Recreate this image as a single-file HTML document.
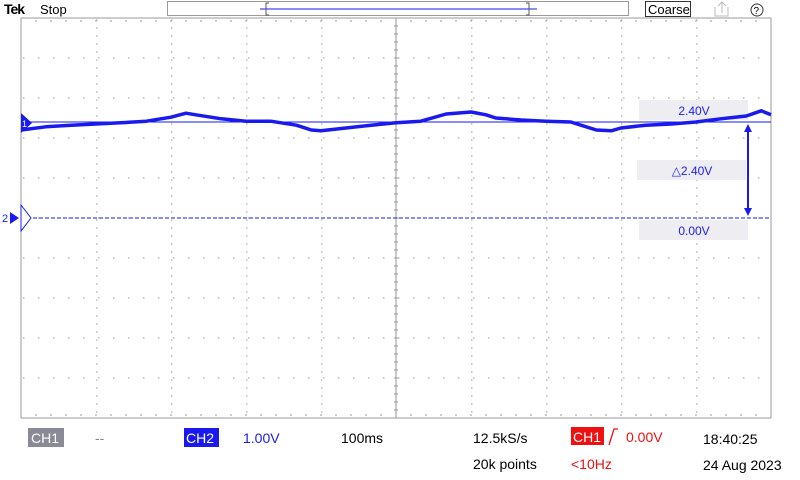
<!DOCTYPE html>
<html><head><meta charset="utf-8"><style>
body{margin:0;width:800px;height:480px;background:#fff;overflow:hidden;font-family:"Liberation Sans",sans-serif;}
svg{position:absolute;left:0;top:0}
</style></head><body>
<svg width="800" height="480" id="scope">
 <text x="4" y="14" font-size="14" font-weight="bold" font-family="Liberation Sans" letter-spacing="-1">Tek</text>
 <text x="40" y="14" font-size="13">Stop</text>
 <rect x="167.5" y="1.5" width="461" height="14" fill="#fff" stroke="#999"/>
 <line x1="260" y1="9" x2="537" y2="9" stroke="#1a1aee"/>
 <path d="M269,3 h-3 v12 h3 M526,3 h3 v12 h-3" fill="none" stroke="#555"/>
 <rect x="645.5" y="1.5" width="45" height="15" fill="#fff" stroke="#333"/>
 <text x="648" y="14" font-size="13">Coarse</text>
 <path d="M715,7 v9 h13 v-9 M722,13 v-11 M718,6 l4,-4 l4,4" fill="none" stroke="#bbb"/>
 <circle cx="757" cy="10" r="6" fill="none" stroke="#333"/>
 <text x="753.5" y="14" font-size="10">?</text>
 <g id="grid"></g>
 <rect x="21" y="18" width="750" height="400" fill="none" stroke="#999"/>
 <line x1="396" y1="18" x2="396" y2="418" stroke="#999"/>
 <rect x="639" y="100" width="109" height="20" fill="#ededf2"/>
 <rect x="637" y="160" width="109" height="20" fill="#ededf2"/>
 <rect x="639" y="220" width="109" height="20" fill="#ededf2"/>
 <g id="marks"></g>
 <text x="694" y="115" font-size="12" fill="#2222ee" text-anchor="middle">2.40V</text>
 <text x="692" y="175" font-size="12" fill="#2222ee" text-anchor="middle">△2.40V</text>
 <text x="694" y="235" font-size="12" fill="#2222ee" text-anchor="middle">0.00V</text>
 <line x1="748" y1="128" x2="748" y2="212" stroke="#1a1aee" stroke-width="2"/>
 <path d="M744,132 L748,124 L752,132Z M744,208 L748,216 L752,208Z" fill="#1a1aee"/>
 <path d="M21,113 L32,123 L21,133Z" fill="#1a1aee"/>
 <text x="22" y="127" font-size="9" fill="#fff">1</text>
 <text x="2" y="222" font-size="11" fill="#1a1aee">2</text>
 <path d="M10,212 L19,218 L10,224Z" fill="#1a1aee"/>
 <path d="M21,205 L31,218 L21,231Z" fill="#fff" stroke="#1a1aee"/>
 <rect x="28" y="428" width="36" height="19" fill="#8a8a96"/>
 <text x="31" y="443" font-size="14" fill="#fff">CH1</text>
 <text x="95" y="443" font-size="14" fill="#888">--</text>
 <rect x="184" y="428" width="35" height="19" fill="#1a1aee"/>
 <text x="186" y="443" font-size="14" fill="#fff">CH2</text>
 <text x="243" y="443" font-size="14" fill="#1a1aee">1.00V</text>
 <text x="341" y="443" font-size="14">100ms</text>
 <text x="473" y="443" font-size="14">12.5kS/s</text>
 <rect x="571" y="427" width="33" height="18" fill="#ee1111"/>
 <text x="573" y="442" font-size="14" fill="#fff">CH1</text>
 <path d="M609,445 L614,429 L618,429" fill="none" stroke="#ee1111" stroke-width="1.3"/>
 <text x="626" y="442" font-size="14" fill="#ee1111">0.00V</text>
 <text x="703" y="444" font-size="14">18:40:25</text>
 <text x="473" y="469" font-size="14">20k points</text>
 <text x="571" y="469" font-size="14" fill="#ee1111">&lt;10Hz</text>
 <text x="703" y="470" font-size="14">24 Aug 2023</text>
</svg>
<script>
const timeMs=[0,33,67,100,133,167,200,220,233,267,300,333,367,387,400,433,467,500,533,567,600,620,633,667,700,733,767,787,800,833,867,900,933,967,987,1000];
const ch1Volts=[2.2,2.28,2.32,2.35,2.38,2.42,2.52,2.62,2.58,2.48,2.42,2.42,2.32,2.2,2.18,2.25,2.32,2.38,2.42,2.6,2.65,2.58,2.5,2.45,2.42,2.4,2.2,2.18,2.25,2.32,2.35,2.4,2.48,2.55,2.68,2.58];
const ch2Volts=[0,0];
const ch2Time=[0,1000];
const cursorA=2.40, cursorB=0.00;
const NS='http://www.w3.org/2000/svg';
const X0=21,W=750,Y0=218,PX_PER_V=40;
function xs(t){return X0+t/1000*W;}
function ys(v){return Y0-v*PX_PER_V;}
const grid=document.getElementById('grid');
let d='';
for(let i=1;i<10;i++){const gx=21+75*i;if(i===5)continue;for(let y=20;y<418;y+=8)d+=`M${gx},${y}h1.5`;}
for(let j=1;j<10;j++){const gy=18+40*j;for(let x=23;x<771;x+=15)d+=`M${x},${gy}h1.5`;}
for(let x=21;x<771;x+=15){d+=`M${x},20v2M${x},414v2`;}
for(let y=18;y<418;y+=8){d+=`M394,${y}h4`;}
const gp=document.createElementNS(NS,'path');gp.setAttribute('d',d);gp.setAttribute('stroke','#999');gp.setAttribute('fill','none');


grid.appendChild(gp);
const marks=document.getElementById('marks');
const ca=document.createElementNS(NS,'line');
ca.setAttribute('x1',X0);ca.setAttribute('x2',X0+W);ca.setAttribute('y1',ys(cursorA));ca.setAttribute('y2',ys(cursorA));ca.setAttribute('stroke','#1a1aee');


marks.appendChild(ca);
const c2=document.createElementNS(NS,'polyline');
c2.setAttribute('points',ch2Time.map((t,i)=>xs(t)+','+ys(ch2Volts[i])).join(' '));
c2.setAttribute('stroke','#1a1aee');c2.setAttribute('stroke-dasharray','4,2');c2.setAttribute('fill','none');


marks.appendChild(c2);
const c1=document.createElementNS(NS,'polyline');
c1.setAttribute('points',timeMs.map((t,i)=>xs(t).toFixed(1)+','+ys(ch1Volts[i]).toFixed(1)).join(' '));
c1.setAttribute('stroke','#1a1aee');c1.setAttribute('stroke-width','3.5');c1.setAttribute('fill','none');c1.setAttribute('stroke-linejoin','round');


marks.appendChild(c1);
</script>
</body></html>
